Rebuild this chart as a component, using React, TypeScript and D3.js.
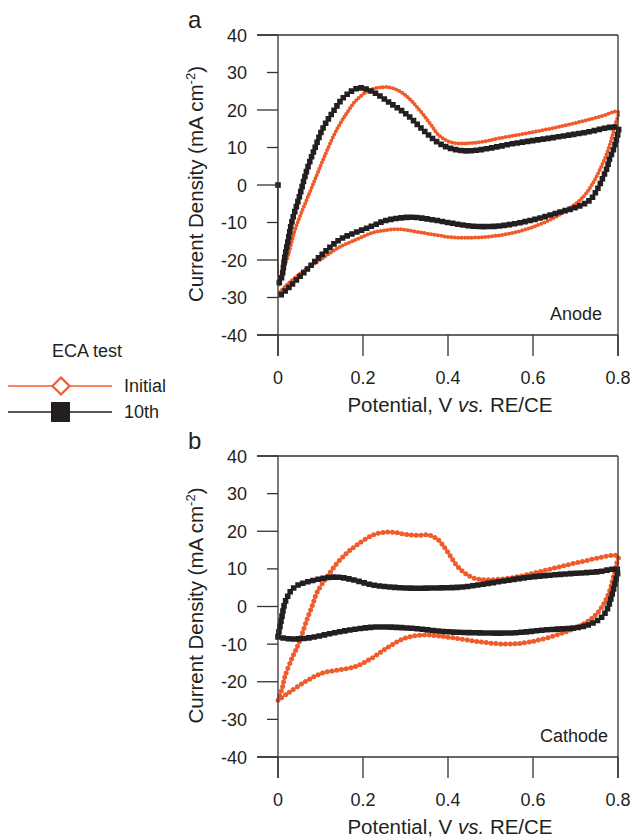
import React from "react";
import * as d3 from "d3";

// ---------- tick values ----------
const xTicks = [0, 0.2, 0.4, 0.6, 0.8];
const xTickLabels = ["0", "0.2", "0.4", "0.6", "0.8"];
const yTicks = [40, 30, 20, 10, 0, -10, -20, -30, -40];
const yMajorTicks = [40, 20, 0, -20, -40];

// ---------- legend ----------
const legendTitle = "ECA test";
const legendLabels = ["Initial", "10th"];

// ---------- panel a : Anode ----------
const anodeInitialV = [
  0, 0.003, 0.012, 0.024, 0.04, 0.06, 0.08, 0.099, 0.118, 0.138, 0.162, 0.185, 0.216, 0.247, 0.27, 0.297,
  0.327, 0.357, 0.381, 0.41, 0.444, 0.48, 0.522, 0.6, 0.68, 0.757, 0.8,
  0.793, 0.786, 0.774, 0.757, 0.741, 0.718, 0.68, 0.64, 0.6, 0.562, 0.522, 0.482, 0.44, 0.405, 0.365, 0.327,
  0.287, 0.25, 0.221, 0.185, 0.141, 0.104, 0.064, 0.024, 0.005, 0,
];
const anodeInitialI = [
  0, -26.5, -23, -18.7, -12, -6, -0.5, 4.8, 9.9, 14.7, 19.2, 22.7, 25.3, 26.1, 25.8, 24.2,
  20.8, 16.5, 13, 11.3, 11.1, 11.5, 12.5, 14.1, 16, 18.2, 19.5,
  16, 12.8, 8.5, 4, 0.5, -3.2, -6.7, -9.3, -11.2, -12.5, -13.4, -13.9, -14.1, -13.9, -13.2, -12.5,
  -11.8, -12.1, -12.8, -14.5, -16.8, -19.6, -22.6, -26.3, -28.5, -29.2,
];
const anode10thV = [
  0, 0.003, 0.009, 0.016, 0.024, 0.032, 0.05, 0.068, 0.087, 0.106, 0.13, 0.153, 0.177, 0.195, 0.224, 0.263,
  0.303, 0.341, 0.374, 0.405, 0.444, 0.482, 0.562, 0.64, 0.718, 0.8,
  0.797, 0.793, 0.787, 0.781, 0.774, 0.765, 0.753, 0.734, 0.703, 0.664, 0.6, 0.522, 0.459, 0.405, 0.36,
  0.315, 0.28, 0.25, 0.22, 0.18, 0.146, 0.104, 0.064, 0.024, 0.005, 0,
];
const anode10thI = [
  0, -26, -24.5, -19.2, -14.7, -10.1, -3.2, 4, 9.9, 15.2, 19.6, 23.2, 25.3, 25.9, 24.8, 21.9,
  18.8, 14.7, 11.5, 9.8, 9.1, 9.5, 11.2, 12.5, 13.9, 15.2,
  12.5, 10.7, 8.8, 7.2, 4.5, 2.1, -0.8, -4, -5.9, -7.2, -9.3, -10.9, -11, -10.1, -9.2,
  -8.6, -8.9, -9.6, -11, -12.8, -14.5, -18.5, -23, -27.5, -29.5, -30,
];

// ---------- panel b : Cathode ----------
const cathodeInitialV = [
  0, 0.01, 0.016, 0.033, 0.045, 0.056, 0.068, 0.08, 0.092, 0.115, 0.139, 0.162, 0.185, 0.224, 0.256, 0.28,
  0.303, 0.33, 0.355, 0.374, 0.39, 0.405, 0.42, 0.44, 0.46, 0.49, 0.553, 0.632, 0.71, 0.8,
  0.797, 0.789, 0.781, 0.769, 0.753, 0.727, 0.671, 0.593, 0.539, 0.475, 0.416, 0.376, 0.339, 0.299, 0.259,
  0.221, 0.181, 0.141, 0.104, 0.064, 0.024, 0,
];
const cathodeInitialI = [
  -24.9, -21.7, -18.7, -13.7, -10.8, -7.5, -3.5, 0, 3.8, 7.8, 11.5, 14.2, 16.3, 19, 19.8, 19.6,
  19.1, 18.9, 19, 18, 16, 13.5, 11, 8.8, 7.6, 7.1, 7.7, 9.7, 11.8, 13.4,
  11.5, 7.8, 4.4, 1.2, -1.5, -4.1, -7, -9.4, -10, -9.4, -8.4, -7.8, -7.6, -8.4, -10.8,
  -13.7, -16, -16.9, -17.7, -20, -23, -24.9,
];
const cathode10thV = [
  0, 0.009, 0.016, 0.024, 0.032, 0.047, 0.068, 0.106, 0.139, 0.169, 0.224, 0.263, 0.303, 0.358, 0.435, 0.515,
  0.593, 0.671, 0.75, 0.8,
  0.797, 0.789, 0.781, 0.774, 0.762, 0.741, 0.71, 0.632, 0.553, 0.475, 0.397, 0.303, 0.224, 0.146, 0.068,
  0.028, 0,
];
const cathode10thI = [
  -8, -2.8, 0.9, 3, 4.4, 5.7, 6.5, 7.5, 7.8, 7.3, 5.7, 5.2, 4.9, 4.9, 5.2, 6.5,
  7.8, 8.6, 9.2, 9.8,
  8, 4.4, 1.2, -0.9, -2.8, -4.4, -5.5, -6.2, -7, -7, -6.7, -5.7, -5.5, -6.7, -8.4,
  -8.6, -8.1,
];

const ORANGE = "#f15a29";
const BLACK = "#231f20";
const AXIS = "#333333";
const FONT = "'Liberation Sans', Arial, Helvetica, sans-serif";

type Kind = "diamond" | "dot" | "square";
type Series = {
  v: number[];
  i: number[];
  color: string;
  kind: Kind;
  markFrom: number;
  startMarker?: boolean;
};

const markerStyle: Record<Kind, { w: number; dash: string; cap: "round" | "square" }> = {
  diamond: { w: 4, dash: "0 3.4", cap: "round" },
  dot: { w: 5, dash: "0 4.8", cap: "round" },
  square: { w: 5.6, dash: "0 5.2", cap: "square" },
};

function Panel(props: {
  top: number;
  bottom: number;
  letter: string;
  tag: string;
  tagX: number;
  series: Series[];
}) {
  const { top, bottom, letter, tag, tagX, series } = props;
  const left = 278;
  const right = 618;
  const x = d3.scaleLinear().domain([0, 0.8]).range([left, right]);
  const y = d3.scaleLinear().domain([-40, 40]).range([bottom, top]);
  const line = d3
    .line<[number, number]>()
    .x((d) => x(d[0]))
    .y((d) => y(d[1]))
    .curve(d3.curveCatmullRom.alpha(0.5));
  const yMid = (y(0) as number) - 1;

  return (
    <g>
      {/* data */}
      {series.map((s, k) => {
        const pts: [number, number][] = s.v.map((v, j) => [v, s.i[j]]);
        const st = markerStyle[s.kind];
        return (
          <g key={k}>
            <path d={line(pts) || ""} fill="none" stroke={s.color} strokeWidth={1} />
            <path
              d={line(pts.slice(s.markFrom)) || ""}
              fill="none"
              stroke={s.color}
              strokeWidth={st.w}
              strokeDasharray={st.dash}
              strokeLinecap={st.cap}
            />
            {s.startMarker && (
              <rect
                x={x(pts[0][0]) - st.w / 2}
                y={y(pts[0][1]) - st.w / 2}
                width={st.w}
                height={st.w}
                fill={s.color}
              />
            )}
          </g>
        );
      })}

      {/* frame */}
      <line x1={left} x2={left} y1={top} y2={bottom + 21} stroke={AXIS} strokeWidth={1.3} />
      <line x1={right} x2={right} y1={top} y2={bottom + 21} stroke={AXIS} strokeWidth={1.3} />
      <line x1={257} x2={right} y1={top} y2={top} stroke={AXIS} strokeWidth={1.3} />
      <line x1={257} x2={right} y1={bottom} y2={bottom} stroke={AXIS} strokeWidth={1.3} />

      {/* y ticks */}
      {yTicks.map((t) => (
        <g key={t}>
          <line
            x1={yMajorTicks.includes(t) ? 257 : 267}
            x2={left}
            y1={y(t)}
            y2={y(t)}
            stroke={AXIS}
            strokeWidth={1.3}
          />
          <text x={247} y={(y(t) as number) + 6.5} textAnchor="end" fontSize={18} fill={BLACK} fontFamily={FONT}>
            {t}
          </text>
        </g>
      ))}

      {/* x ticks */}
      {xTicks.map((t, k) => (
        <g key={t}>
          <line x1={x(t)} x2={x(t)} y1={bottom} y2={bottom + 21} stroke={AXIS} strokeWidth={1.3} />
          <text x={x(t)} y={bottom + 49} textAnchor="middle" fontSize={18} fill={BLACK} fontFamily={FONT}>
            {xTickLabels[k]}
          </text>
        </g>
      ))}

      {/* axis titles */}
      <text x={450} y={bottom + 77} textAnchor="middle" fontSize={20.5} fill={BLACK} fontFamily={FONT}>
        Potential, V <tspan fontStyle="italic">vs.</tspan> RE/CE
      </text>
      <text
        transform={`translate(203,${yMid}) rotate(-90)`}
        textAnchor="middle"
        fontSize={20.5}
        fill={BLACK}
        fontFamily={FONT}
      >
        Current Density (mA cm
        <tspan dy={-8} fontSize={13}>
          -2
        </tspan>
        <tspan dy={8}>)</tspan>
      </text>

      {/* panel letter and tag */}
      <text x={188} y={top - 7} fontSize={24} fill={BLACK} fontFamily={FONT}>
        {letter}
      </text>
      <text x={tagX} y={bottom - 15} textAnchor="end" fontSize={18} fill={BLACK} fontFamily={FONT}>
        {tag}
      </text>
    </g>
  );
}

export default function App() {
  const seriesA: Series[] = [
    { v: anodeInitialV, i: anodeInitialI, color: ORANGE, kind: "diamond", markFrom: 1 },
    { v: anode10thV, i: anode10thI, color: BLACK, kind: "square", markFrom: 1, startMarker: true },
  ];
  const seriesB: Series[] = [
    { v: cathodeInitialV, i: cathodeInitialI, color: ORANGE, kind: "dot", markFrom: 0 },
    { v: cathode10thV, i: cathode10thI, color: BLACK, kind: "square", markFrom: 0 },
  ];
  return (
    <svg
      width={630}
      height={839}
      style={{ position: "absolute", left: 0, top: 0, background: "#fff" }}
      fontFamily={FONT}
    >
      <rect width={630} height={839} fill="#fff" />
      <Panel top={35} bottom={335} letter="a" tag="Anode" tagX={602} series={seriesA} />
      <Panel top={456} bottom={757} letter="b" tag="Cathode" tagX={608} series={seriesB} />

      {/* legend */}
      <text x={52} y={357} fontSize={18} fill={BLACK} fontFamily={FONT}>
        {legendTitle}
      </text>
      <line x1={8} x2={112} y1={386} y2={386} stroke={ORANGE} strokeWidth={1.5} />
      <path d="M61,377.5 L69.5,386 L61,394.5 L52.5,386 Z" fill="#fff" stroke={ORANGE} strokeWidth={2.2} />
      <text x={124} y={392} fontSize={18} fill={BLACK} fontFamily={FONT}>
        {legendLabels[0]}
      </text>
      <line x1={8} x2={112} y1={412} y2={412} stroke={BLACK} strokeWidth={1.5} />
      <rect x={51} y={402} width={19} height={20} fill={BLACK} />
      <text x={124} y={418} fontSize={18} fill={BLACK} fontFamily={FONT}>
        {legendLabels[1]}
      </text>
    </svg>
  );
}
